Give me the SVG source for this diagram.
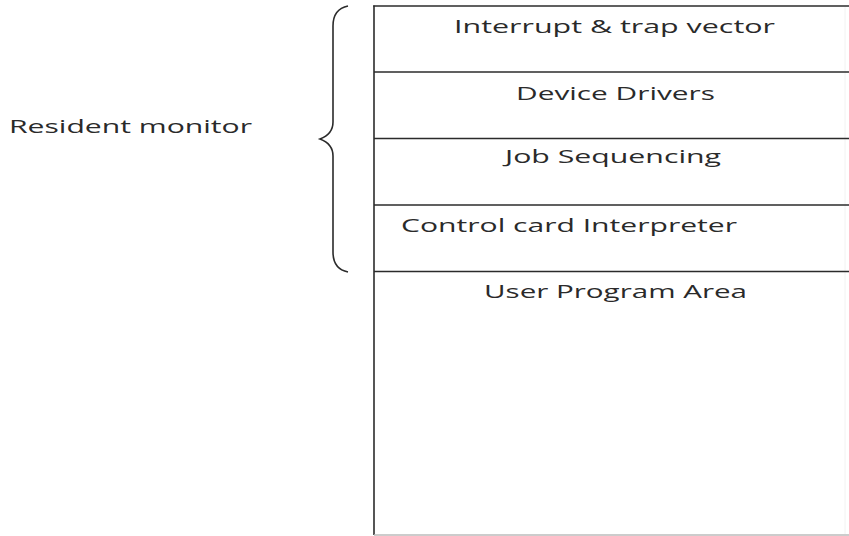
<svg xmlns="http://www.w3.org/2000/svg" width="849" height="536" viewBox="0 0 849 536">
<style>
.t{font-family:"Open Sans","Noto Sans","DejaVu Sans",sans-serif;font-size:17.5px;fill:#2a2a2a}
.ln{stroke:#2b2b2b;stroke-width:1.6;fill:none}
</style>
<rect width="849" height="536" fill="#ffffff"/>
<g id="stack">
<line class="ln" x1="374" y1="535" x2="374" y2="5.5"/>
<line class="ln" x1="373.2" y1="6" x2="849" y2="6"/>
<line x1="374" y1="535" x2="849" y2="535" stroke="#bbbbbb" stroke-width="1.5"/>
<line x1="845" y1="7" x2="845" y2="534" stroke="#f2f2f2" stroke-width="1"/>
</g>
<g id="n1"><line class="ln" x1="374" y1="72" x2="849" y2="72"/><text class="t" x="454" y="33" textLength="321" lengthAdjust="spacingAndGlyphs">Interrupt &amp; trap vector</text></g>
<g id="n2"><line class="ln" x1="374" y1="138.5" x2="849" y2="138.5"/><text class="t" x="516" y="100" textLength="199" lengthAdjust="spacingAndGlyphs">Device Drivers</text></g>
<g id="n3"><line class="ln" x1="374" y1="205" x2="849" y2="205"/><text class="t" x="505" y="163" textLength="216" lengthAdjust="spacingAndGlyphs">Job Sequencing</text></g>
<g id="n4"><line class="ln" x1="374" y1="271.5" x2="849" y2="271.5"/><text class="t" x="401" y="232" textLength="336" lengthAdjust="spacingAndGlyphs">Control card Interpreter</text></g>
<g id="n5"><text class="t" x="484" y="298" textLength="263" lengthAdjust="spacingAndGlyphs">User Program Area</text></g>
<g id="label"><text class="t" x="9" y="133" textLength="243" lengthAdjust="spacingAndGlyphs">Resident monitor</text></g>
<g id="connectors">
<path class="ln" stroke-width="1.4" d="M348,6 C338,8 333,14 333,26 L333,122 C333,131 328,136 320,139 C328,142 333,147 333,156 L333,252 C333,264 338,270 348,272"/>
</g>
</svg>
